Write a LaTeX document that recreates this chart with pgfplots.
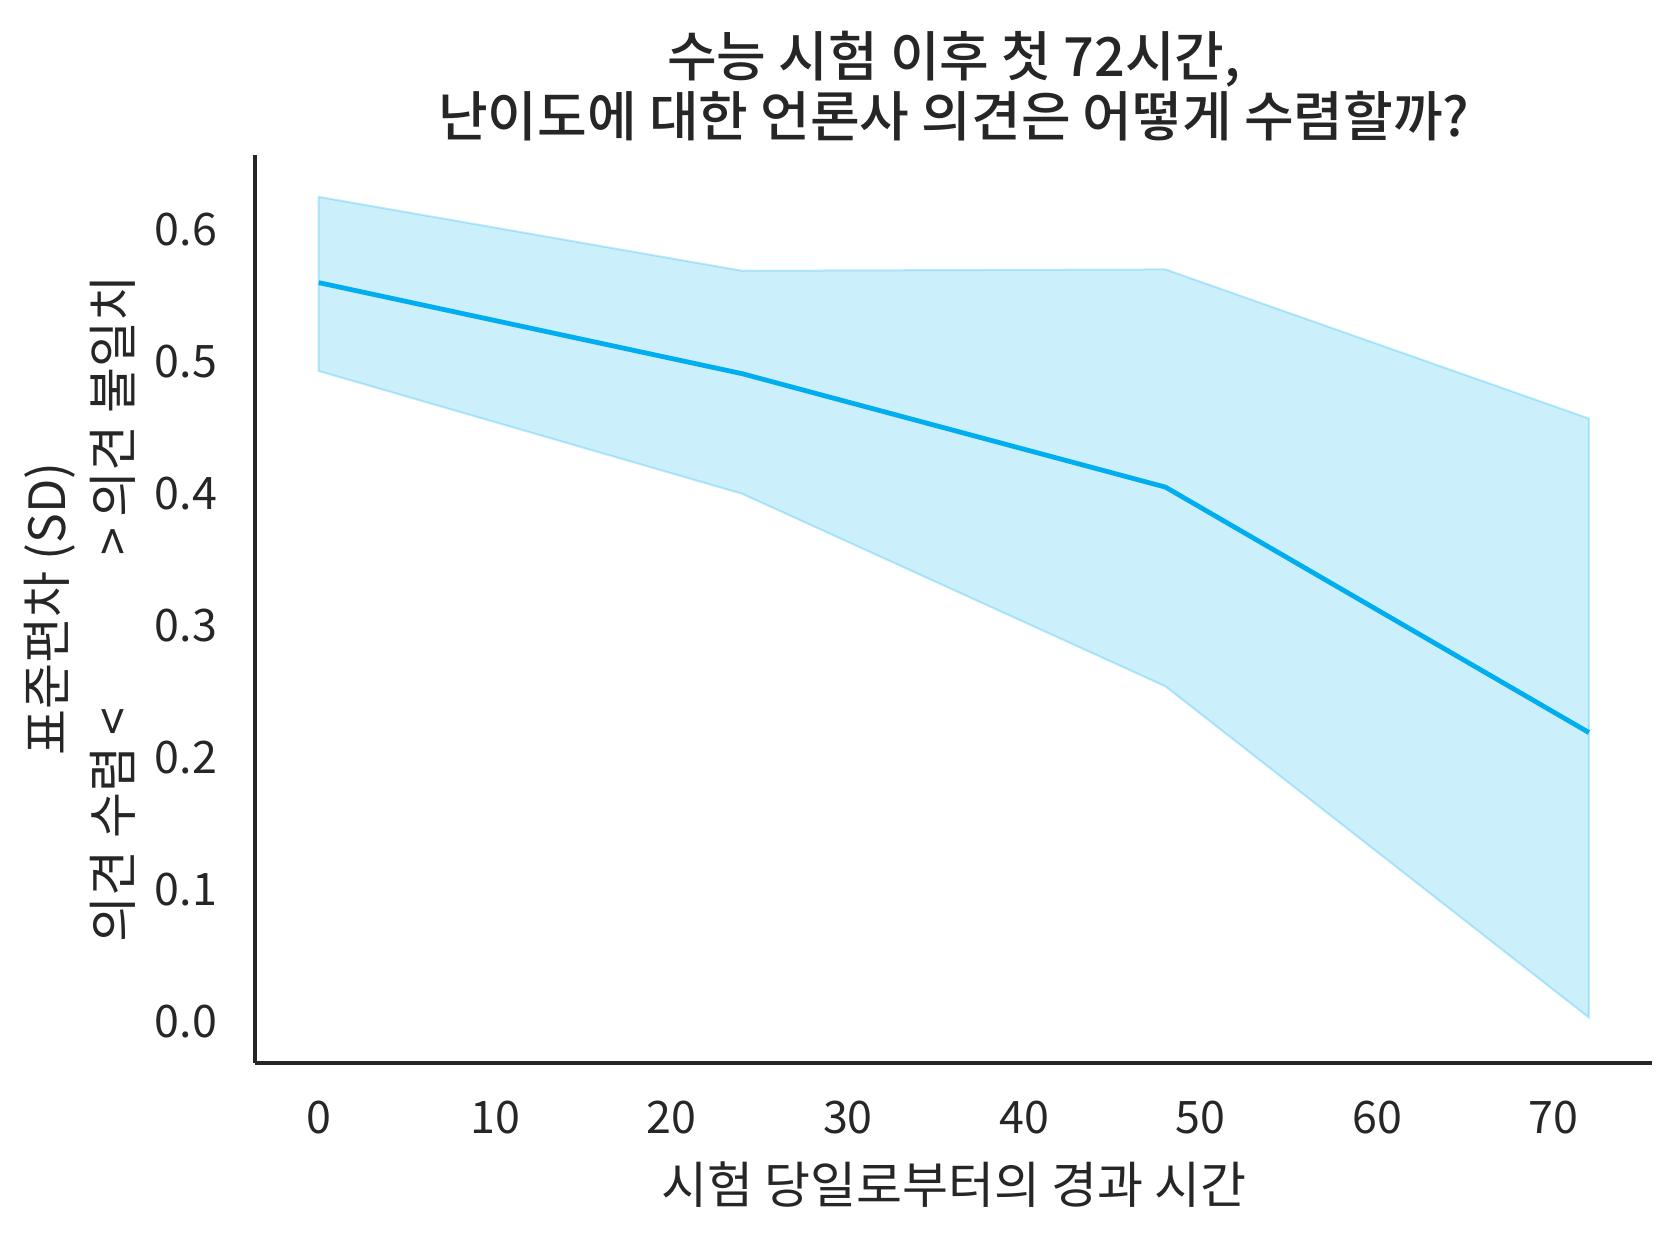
\documentclass[border=0pt]{standalone}
\usepackage{fontspec}
\setmainfont{Noto Sans CJK KR}
\newfontfamily\titlefont{Noto Sans CJK KR Medium}
\usepackage{pgfplots}
\pgfplotsset{compat=1.18}
\usetikzlibrary{calc}

\definecolor{linec}{RGB}{0,174,239}
\definecolor{txt}{HTML}{262626}

\begin{document}
\begin{tikzpicture}
\begin{axis}[
  scale only axis,
  width=349.3pt, height=226.9pt,
  xmin=-3.6, xmax=75.6,
  ymin=-0.0313, ymax=0.6566,
  axis x line*=bottom,
  axis y line*=left,
  axis line style={-, draw=txt, line width=1pt},
  major tick length=0pt,
  xtick={0,10,...,70},
  ytick={0,0.1,...,0.6},
  yticklabel style={/pgf/number format/fixed, /pgf/number format/fixed zerofill, /pgf/number format/precision=1},
  /pgf/number format/assume math mode=true,
  tick label style={font=\fontsize{11.2}{13}\selectfont, text=txt},
  xticklabel style={yshift=-6pt},
  yticklabel style={xshift=-6pt},
  title={수능 시험 이후 첫 72시간,\\난이도에 대한 언론사 의견은 어떻게 수렴할까?},
  title style={font=\titlefont\fontsize{13.5}{15}\selectfont, text=txt, align=center, yshift=-6pt},
  xlabel={시험 당일로부터의 경과 시간},
  ylabel={표준편차 (SD)\\의견 수렴 <\hspace{38pt}> 의견 불일치},
  label style={font=\fontsize{12.5}{16.5}\selectfont, text=txt},
  ylabel style={align=center, yshift=-2pt},
  clip=false,
]
% confidence band: upper edge left to right, lower edge right to left
\addplot[fill=linec, fill opacity=0.2, draw=linec, draw opacity=0.25, line width=0.5pt]
  coordinates {
  (0, 0.625) (24, 0.569) (48, 0.570) (72, 0.457)
  (72, 0.003) (48, 0.254) (24, 0.400) (0, 0.493)
  } -- cycle;

% mean SD
\addplot[linec, line width=1.2pt, mark=none]
  coordinates {
  (0, 0.560) (24, 0.491) (48, 0.405) (72, 0.219)
  };

\coordinate (sw) at (rel axis cs:0,0);
\coordinate (ne) at (rel axis cs:1,1);
\end{axis}
\pgfresetboundingbox
\useasboundingbox ($(sw)+(-63.8pt,-44.5pt)$) rectangle ($(ne)+(6.9pt,38.8pt)$);
\end{tikzpicture}
\end{document}
